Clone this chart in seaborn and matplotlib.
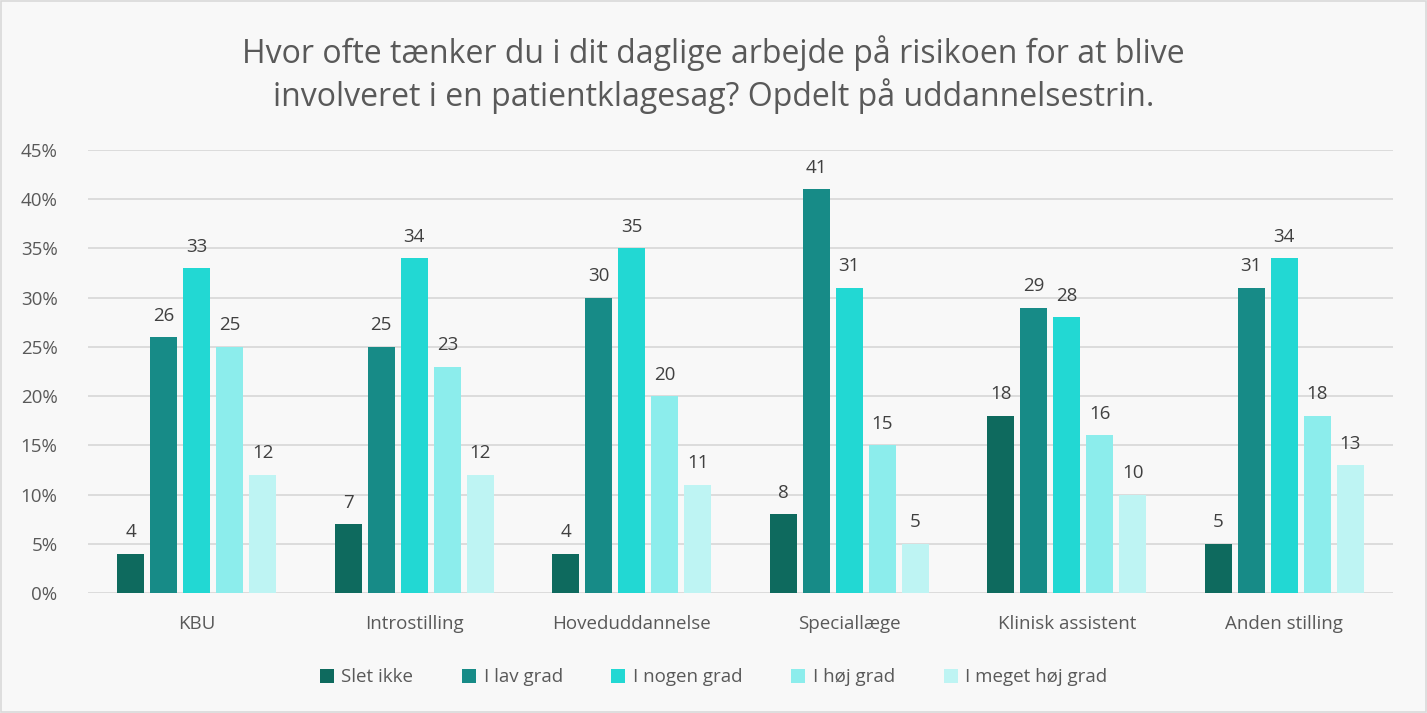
import numpy as np
import pandas as pd
import matplotlib.pyplot as plt
import matplotlib.ticker as mtick
import seaborn as sns

# Data (percent)
groups = ["KBU", "Introstilling", "Hoveduddannelse", "Speciallæge", "Klinisk assistent", "Anden stilling"]
answers = ["Slet ikke", "I lav grad", "I nogen grad", "I høj grad", "I meget høj grad"]
slet_ikke = [4, 7, 4, 8, 18, 5]
lav_grad = [26, 25, 30, 41, 29, 31]
nogen_grad = [33, 34, 35, 31, 28, 34]
hoej_grad = [25, 23, 20, 15, 16, 18]
meget_hoej = [12, 12, 11, 5, 10, 13]
colors = ["#0E6A5E", "#178B87", "#22D8D3", "#8CEDEC", "#BEF4F3"]

title = "Hvor ofte tænker du i dit daglige arbejde på risikoen for at blive\ninvolveret i en patientklagesag? Opdelt på uddannelsestrin."

rows = []
for ans, vals in zip(answers, [slet_ikke, lav_grad, nogen_grad, hoej_grad, meget_hoej]):
    for g, v in zip(groups, vals):
        rows.append({"Gruppe": g, "Svar": ans, "Andel": v / 100})
df = pd.DataFrame(rows)

sns.set_style("white")
plt.rcParams["font.family"] = ["Open Sans", "DejaVu Sans"]

fig = plt.figure(figsize=(14.27, 7.13), dpi=100, facecolor="#F8F8F8")
ax = fig.add_axes([0.0617, 0.1683, 0.9145, 0.6213])
ax.set_facecolor("#F8F8F8")

sns.barplot(data=df, x="Gruppe", y="Andel", hue="Svar", order=groups, hue_order=answers,
            palette=colors, width=0.76, gap=0.18, ax=ax, saturation=1, legend=True,
            linewidth=0)

# data labels
for cont, vals in zip(ax.containers, [slet_ikke, lav_grad, nogen_grad, hoej_grad, meget_hoej]):
    ax.bar_label(cont, labels=[str(v) for v in vals], padding=9, fontsize=13.5, color="#404040")

ax.set_ylim(0, 0.45)
ax.set_yticks(np.arange(0, 0.451, 0.05))
ax.yaxis.set_major_formatter(mtick.PercentFormatter(1.0, decimals=0))
ax.grid(axis="y", color="#D9D9D9", linewidth=1.3)
ax.set_axisbelow(True)
for s in ax.spines.values():
    s.set_visible(False)
ax.tick_params(axis="both", length=0, labelsize=13.5, labelcolor="#595959")
ax.tick_params(axis="x", pad=16)
ax.tick_params(axis="y", pad=22)
ax.set_xlabel("")
ax.set_ylabel("")

handles, labels = ax.get_legend_handles_labels()
ax.get_legend().remove()
leg = fig.legend(handles, labels, loc="center", bbox_to_anchor=(0.5, 0.05), ncol=5, frameon=False,
                 fontsize=13.5, handlelength=0.75, handleheight=0.75, columnspacing=2.6,
                 handletextpad=0.4)
for t in leg.get_texts():
    t.set_color("#595959")

fig.text(0.5, 0.895, title, ha="center", va="center", fontsize=23, color="#595959",
         linespacing=1.25)

fig.patches.append(plt.Rectangle((0.001, 0.001), 0.998, 0.998, transform=fig.transFigure,
                                 fill=False, edgecolor="#D9D9D9", linewidth=1.2))

fig.savefig("out.png", dpi=100, facecolor=fig.get_facecolor())
